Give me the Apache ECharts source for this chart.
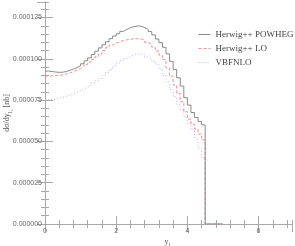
<!DOCTYPE html>
<html>
<head>
<meta charset="utf-8">
<script src="https://cdn.jsdelivr.net/npm/echarts@6/dist/echarts.min.js"></script>
<style>html,body{margin:0;padding:0;background:#fff}#c{width:295px;height:246px}</style>
</head>
<body>
<div id="c"></div>
<script>
// bin width in y_l1, histogram from 0 to 5.0
const binWidth = 0.1;
// values in units of 1e-6 nb
const powheg = [92.6, 92.3, 92.0, 91.8, 91.9, 92.3, 93.0, 93.8, 94.7, 95.7,
  97.0, 98.8, 100.6, 102.6, 104.6, 106.6, 108.5, 110.3, 112.2, 113.8,
  115.2, 116.6, 117.8, 118.8, 119.5, 119.9, 119.8, 119.0, 117.8, 116.5,
  114.5, 112.0, 109.8, 107.0, 103.0, 98.5, 93.5, 88.5, 83.5, 76.5,
  72.0, 67.5, 64.5, 62.0, 60.0, 0, 0, 0, 0, 0];
const lo = [89.6, 89.6, 89.8, 90.0, 90.3, 90.8, 91.4, 92.2, 93.1, 94.1,
  95.3, 96.6, 98.0, 99.6, 101.2, 103.0, 105.0, 106.8, 108.3, 109.5,
  110.4, 111.0, 111.5, 111.9, 112.1, 112.2, 112.0, 111.3, 110.0, 108.8,
  107.0, 104.8, 102.2, 99.5, 94.5, 89.5, 84.2, 79.0, 74.0, 68.0,
  63.5, 60.5, 57.5, 54.5, 51.0, 0, 0, 0, 0, 0];
const vbfnlo = [75.4, 75.5, 75.8, 76.2, 76.7, 77.3, 78.0, 78.8, 79.7, 80.7,
  81.8, 82.9, 84.1, 85.4, 86.8, 88.2, 90.0, 91.8, 93.6, 95.5,
  97.3, 98.8, 100.2, 101.4, 102.3, 102.9, 103.0, 102.6, 101.0, 100.0,
  98.5, 96.8, 94.0, 90.0, 86.0, 81.5, 77.0, 72.5, 69.0, 65.0,
  61.0, 57.0, 52.0, 46.0, 40.0, 0, 0, 0, 0, 0];
const seriesNames = ['Herwig++ POWHEG', 'Herwig++ LO', 'VBFNLO'];

function steps(vals) {
  const pts = vals.map((v, i) => [+(i * binWidth).toFixed(3), v]);
  pts.push([+(vals.length * binWidth).toFixed(3), vals[vals.length - 1]]);
  return pts;
}

const axisCol = '#a8a8a8';
const labCol = '#666';
const X_MAX = 6.94, Y_MAX = 134.4;

function xAx(pos, major, withLabels) {
  return {
    type: 'value', position: pos, min: 0, max: X_MAX,
    interval: major ? 2 : 0.4,
    axisLine: { show: major, lineStyle: { color: axisCol, width: 1 } },
    axisTick: { show: true, inside: true, length: major ? 8 : 4, lineStyle: { color: axisCol } },
    axisLabel: withLabels ? { show: true, margin: 4, fontSize: 7, color: labCol,
      fontFamily: 'Liberation Sans', showMaxLabel: false } : { show: false },
    splitLine: { show: false },
    name: withLabels ? '{n|y}{s|l₁}' : '',
    nameLocation: 'middle', nameGap: 12, nameMoveOverlap: false,
    nameTextStyle: { rich: { n: { fontSize: 8, fontFamily: 'Liberation Serif', color: '#555' },
                             s: { fontSize: 6, fontFamily: 'Liberation Serif', color: '#555', verticalAlign: 'bottom', padding: [6, 0, 0, 0] } } }
  };
}
function yAx(pos, major, withLabels) {
  return {
    type: 'value', position: pos, min: 0, max: Y_MAX,
    interval: major ? 25 : 5,
    axisLine: { show: major, lineStyle: { color: axisCol, width: 1 } },
    axisTick: { show: true, inside: true, length: major ? 8 : 4, lineStyle: { color: axisCol } },
    axisLabel: withLabels ? { show: true, margin: 3, fontSize: 7, color: labCol,
      fontFamily: 'Liberation Sans', showMaxLabel: false,
      formatter: v => (v / 1e6).toFixed(6) } : { show: false },
    splitLine: { show: false },
    name: withLabels ? '{n|dσ/dy}{s|l₁}{n| [nb]}' : '',
    nameLocation: 'middle', nameGap: 32, nameRotate: 90, nameMoveOverlap: false,
    nameTextStyle: { rich: { n: { fontSize: 8, fontFamily: 'Liberation Serif', color: '#555' },
                             s: { fontSize: 6, fontFamily: 'Liberation Serif', color: '#555', padding: [6, 0, 0, 0] } } }
  };
}

const chart = echarts.init(document.getElementById('c'), null, { renderer: 'canvas' });
chart.setOption({
  animation: false,
  backgroundColor: '#fff',
  grid: { left: 45, right: 3, top: 2, bottom: 22, containLabel: false, outerBoundsMode: 'none' },
  xAxis: [xAx('bottom', true, true), xAx('bottom', false, false), xAx('top', true, false), xAx('top', false, false)],
  yAxis: [yAx('left', true, true), yAx('left', false, false), yAx('right', true, false), yAx('right', false, false)],
  legend: {
    orient: 'vertical', left: 193, top: 25, itemWidth: 12, itemHeight: 9, itemGap: 5,
    itemStyle: { opacity: 0 },
    lineStyle: { width: 1 },
    textStyle: { fontSize: 9, fontFamily: 'Liberation Serif', color: '#444' },
    data: seriesNames
  },
  series: [
    { name: seriesNames[2], type: 'line', step: 'end', symbol: 'none', data: steps(vbfnlo),
      lineStyle: { color: '#b4b4ff', width: 1, type: [1, 2] }, itemStyle: { color: '#b4b4ff' }, z: 2 },
    { name: seriesNames[1], type: 'line', step: 'end', symbol: 'none', data: steps(lo),
      lineStyle: { color: '#ff8a8a', width: 1, type: [3, 2] }, itemStyle: { color: '#ff8a8a' }, z: 3 },
    { name: seriesNames[0], type: 'line', step: 'end', symbol: 'none', data: steps(powheg),
      lineStyle: { color: '#8a8a8a', width: 1 }, itemStyle: { color: '#8a8a8a' }, z: 4 }
  ]
});
</script>
</body>
</html>
